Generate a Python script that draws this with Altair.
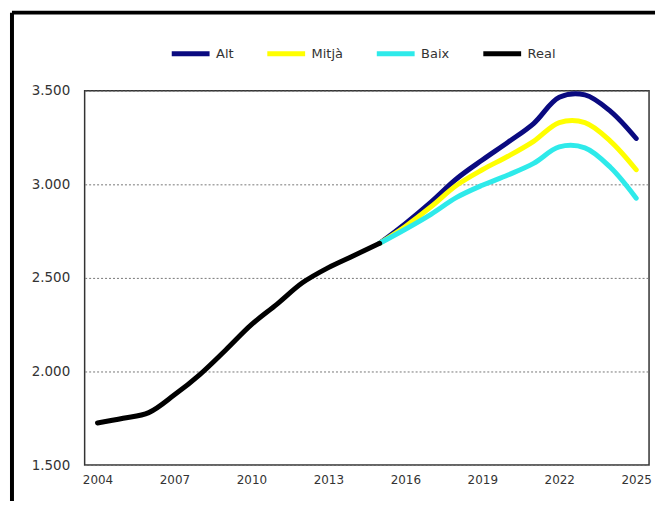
import altair as alt
import pandas as pd

real_years = list(range(2004, 2016))
real_vals = [1725, 1750, 1780, 1875, 1985, 2115, 2250, 2360, 2475, 2555, 2620, 2685]

proj_years = list(range(2015, 2026))
alt_vals = [2685, 2790, 2905, 3030, 3130, 3225, 3325, 3465, 3478, 3390, 3245]
mitja_vals = [2685, 2775, 2880, 2995, 3078, 3150, 3230, 3330, 3330, 3230, 3078]
baix_vals = [2685, 2760, 2840, 2930, 2995, 3050, 3112, 3200, 3195, 3090, 2926]

series_names = ["Alt", "Mitjà", "Baix", "Real"]
series_colors = ["#0a0a80", "#ffff00", "#2eeaea", "#000000"]
x_ticks = [2004, 2007, 2010, 2013, 2016, 2019, 2022, 2025]
y_ticks = [1500, 2000, 2500, 3000, 3500]

rows = []
for y, v in zip(proj_years, alt_vals):
    rows.append({"year": y, "value": v, "series": "Alt"})
for y, v in zip(proj_years, mitja_vals):
    rows.append({"year": y, "value": v, "series": "Mitjà"})
for y, v in zip(proj_years, baix_vals):
    rows.append({"year": y, "value": v, "series": "Baix"})
for y, v in zip(real_years, real_vals):
    rows.append({"year": y, "value": v, "series": "Real"})
df = pd.DataFrame(rows)

W, H = 567, 376

color = alt.Color(
    "series:N",
    scale=alt.Scale(domain=series_names, range=series_colors),
    legend=alt.Legend(
        orient="none", legendX=85, legendY=-59, direction="horizontal",
        title=None, symbolType="stroke", symbolStrokeWidth=5, symbolSize=1444,
        labelFontSize=13, labelOffset=4, columnPadding=23, padding=0,
        labelColor="#333333", labelFont="DejaVu Sans",
    ),
)

x = alt.X(
    "year:Q",
    scale=alt.Scale(domain=[2003.5, 2025.5], nice=False, zero=False),
    axis=alt.Axis(values=x_ticks, format="d", title=None, grid=False, ticks=False,
                  domain=False, labelFontSize=12, labelPadding=10,
                  labelColor="#333333", labelFont="DejaVu Sans"),
)
y = alt.Y(
    "value:Q",
    scale=alt.Scale(domain=[1500, 3500], nice=False, zero=False),
    axis=alt.Axis(values=y_ticks, title=None, ticks=False, domain=False,
                  labelExpr="replace(format(datum.value, ','), ',', '.')",
                  labelFontSize=13.5, labelPadding=15, labelColor="#333333",
                  labelFont="DejaVu Sans",
                  grid=True, gridDash=[2, 2], gridColor="#777777", gridWidth=1),
)

base = alt.Chart(df)
layers = []
for name in ["Alt", "Mitjà", "Baix", "Real"]:
    layers.append(
        base.transform_filter(alt.datum.series == name)
        .mark_line(interpolate="catmull-rom", strokeWidth=5, strokeCap="round")
        .encode(x=x, y=y, color=color)
    )

one = pd.DataFrame({"a": [0]})
top_rule = alt.Chart(one).mark_rule(color="black", strokeWidth=4).encode(
    x=alt.value(-73), x2=alt.value(573), y=alt.value(-78.5)
)
left_rule = alt.Chart(one).mark_rule(color="black", strokeWidth=4).encode(
    x=alt.value(-73), y=alt.value(-78.5), y2=alt.value(412)
)

chart = alt.layer(*layers, top_rule, left_rule).properties(
    width=W, height=H,
    padding={"left": 2, "top": 1, "right": 2, "bottom": 2},
    background="white",
).configure_view(stroke="#333333", strokeWidth=1.5)

chart.save("out.html", embed_options={"renderer": "svg", "actions": False})
